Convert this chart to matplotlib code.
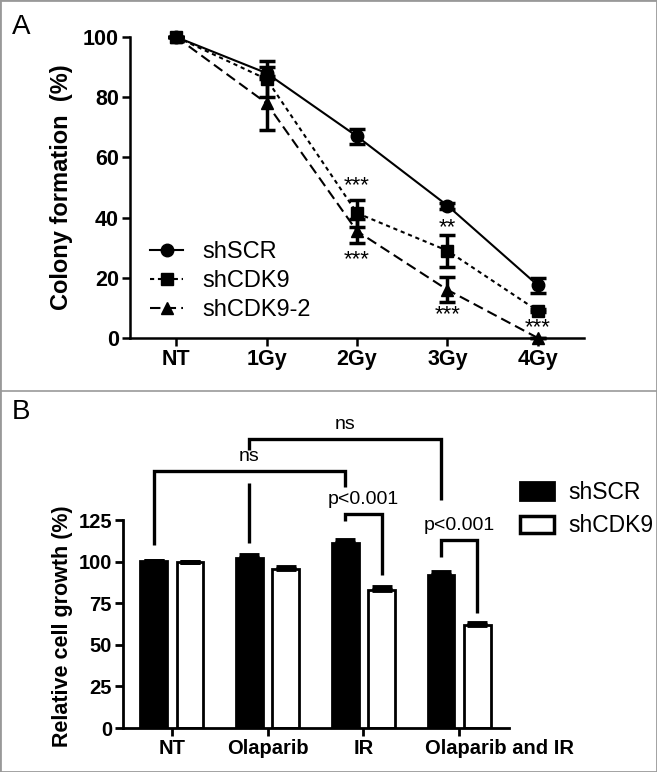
import matplotlib
matplotlib.use("Agg")
import matplotlib.pyplot as plt
from matplotlib.patches import Rectangle, Patch
from matplotlib.lines import Line2D
import numpy as np

plt.rcParams['font.family'] = ['Liberation Sans', 'DejaVu Sans']

# ---- panel A data: colony formation (%) ----
doses = ["NT", "1Gy", "2Gy", "3Gy", "4Gy"]
scr_mean = [100, 88, 67, 44, 17.5]
scr_err = [0, 2, 2.5, 1, 2.5]
cdk9_mean = [100, 86, 41.5, 29, 9]
cdk9_err = [0, 6, 4.5, 5.3, 0.5]
cdk92_mean = [100, 78, 35.5, 16, 0]
cdk92_err = [0, 9, 4, 4.2, 0]
# significance stars (dose index, y, text)
stars_x = [2, 2, 3, 3, 4]
stars_y = [50.5, 26, 36.5, 7.8, 3.5]
stars_txt = ["***", "***", "**", "***", "***"]

# ---- panel B data: relative cell growth (%) ----
groups = ["NT", "Olaparib", "IR", "Olaparib and IR"]
scr_growth = [100.5, 102, 111, 92]
scr_growth_err = [0, 2, 2, 2]
cdk9_growth = [100, 95.5, 83, 62]
cdk9_growth_err = [0, 1.5, 1.5, 1]
# brackets: x left, x right, y top, y left end, y right end, label, label y
br_x1 = [-0.19, 0.81, 1.81, 2.81]
br_x2 = [1.81, 2.81, 2.19, 3.19]
br_y = [154.5, 173.5, 128.6, 113]
br_y1 = [110, 111, 124.4, 103]
br_y2 = [145, 137, 92, 69]
br_txt = ["ns", "ns", "p<0.001", "p<0.001"]
br_ty = [158, 177, 132, 116.5]

fig = plt.figure(figsize=(6.57, 7.72), dpi=100)

# ---------------- panel A ----------------
ax = fig.add_axes([130/657, 1-338/772, 454/657, 301/772])
x = np.arange(len(doses))
styles = [("shSCR", scr_mean, scr_err, 'o', '-'),
          ("shCDK9", cdk9_mean, cdk9_err, 's', (0, (2, 1.8))),
          ("shCDK9-2", cdk92_mean, cdk92_err, '^', (0, (5, 2.5)))]
for name, m, e, mk, ls in styles:
    ax.errorbar(x, m, yerr=e, color='black', marker=mk, markersize=9,
                linestyle=ls, linewidth=1.5, elinewidth=2.5, capsize=5.5,
                capthick=2.5, label=name, clip_on=False, zorder=3)
for sx, sy, st in zip(stars_x, stars_y, stars_txt):
    ax.text(sx, sy, st, ha='center', va='center', fontsize=16)

ax.set_xlim(-0.51, 4.51)
ax.set_ylim(0, 100)
ax.set_xticks(x)
ax.set_xticklabels(doses, fontsize=15.5, fontweight='bold')
ax.set_yticks([0, 20, 40, 60, 80, 100])
ax.set_yticklabels(['0', '20', '40', '60', '80', '100'], fontsize=15.5, fontweight='bold')
for s in ['top', 'right']:
    ax.spines[s].set_visible(False)
for s in ['left', 'bottom']:
    ax.spines[s].set_linewidth(1.8)
ax.tick_params(width=1.8, length=6, pad=2)
ax.set_ylabel("Colony formation  (%)", fontsize=17, fontweight='bold')
ax.yaxis.set_label_coords(-0.125, 0.5)

h = [Line2D([], [], color='black', marker=mk, markersize=9, linestyle=ls, lw=1.5)
     for _, _, _, mk, ls in styles]
ax.legend(h, [s[0] for s in styles], loc='lower left', bbox_to_anchor=(0.045, 0.055),
          frameon=False, fontsize=17, handlelength=1.4, handletextpad=0.8,
          labelspacing=0.3, borderpad=0, borderaxespad=0)

# ---------------- panel B ----------------
bx = fig.add_axes([123/657, 1-728/772, 386/657, 208/772])
g = np.arange(len(groups))
off = 0.19
w = 0.28
bx.bar(g - off, scr_growth, width=w, color='black', edgecolor='black', linewidth=2, zorder=2)
bx.bar(g + off, cdk9_growth, width=w, color='white', edgecolor='black', linewidth=2, zorder=2)
bx.errorbar(g - off, scr_growth, yerr=[np.zeros(4), scr_growth_err], fmt='none',
            ecolor='black', elinewidth=2, capsize=7, capthick=3.5, zorder=3)
bx.errorbar(g + off, cdk9_growth, yerr=[np.zeros(4), cdk9_growth_err], fmt='none',
            ecolor='black', elinewidth=2, capsize=7, capthick=3.5, zorder=3)

for i in range(len(br_txt)):
    xs = [br_x1[i], br_x1[i], br_x2[i], br_x2[i]]
    ys = [br_y1[i], br_y[i], br_y[i], br_y2[i]]
    if i == 1:
        # left leg is broken where it crosses the lower "ns" bracket
        bx.plot([br_x1[i], br_x1[i]], [br_y1[i], 147.5], color='black', lw=2.4,
                clip_on=False, solid_capstyle='butt')
        ys = [167, br_y[i], br_y[i], br_y2[i]]
    bx.plot(xs, ys, color='black', lw=2.4, clip_on=False, solid_joinstyle='miter',
            solid_capstyle='butt')
    bx.text((br_x1[i] + br_x2[i]) / 2, br_ty[i], br_txt[i], ha='center', va='bottom',
            fontsize=14)

bx.set_xlim(-0.51, 3.52)
bx.set_ylim(0, 125)
bx.set_xticks(g)
bx.set_xticklabels(groups[:-1] + [""], fontsize=14.5, fontweight='bold')
# last category label sits to the right of its tick in the original
bx.annotate(groups[-1], xy=(g[-1], 0), xycoords=('data', 'axes fraction'),
            xytext=(29, -8), textcoords='offset points', ha='center', va='top',
            fontsize=14.5, fontweight='bold', annotation_clip=False)
bx.set_yticks([0, 25, 50, 75, 100, 125])
bx.set_yticklabels(['0', '25', '50', '75', '100', '125'], fontsize=14.5, fontweight='bold')
for s in ['top', 'right']:
    bx.spines[s].set_visible(False)
for s in ['left', 'bottom']:
    bx.spines[s].set_linewidth(2)
bx.tick_params(width=2, length=6, pad=2)
bx.set_ylabel("Relative cell growth (%)", fontsize=15.5, fontweight='bold')
bx.yaxis.set_label_coords(-0.13, 0.49)

bh = [Patch(facecolor='black', edgecolor='black', lw=2),
      Patch(facecolor='white', edgecolor='black', lw=2.5)]
fig.legend(bh, ["shSCR", "shCDK9"], loc='upper left', bbox_to_anchor=(520/657, 1-481/772),
           frameon=False, fontsize=16.5, handlelength=1.5, handleheight=0.8,
           handletextpad=0.6, labelspacing=0.45, borderpad=0, borderaxespad=0)

# panel labels and frame
fig.text(12/657, 1-27/772, "A", fontsize=20, va='center', ha='left')
fig.text(12/657, 1-412/772, "B", fontsize=20, va='center', ha='left')
fig.add_artist(Rectangle((0, 0), 1, 1, transform=fig.transFigure, fill=False,
                         edgecolor='#999999', lw=2))
fig.add_artist(Line2D([0, 1], [1-390.5/772, 1-390.5/772], transform=fig.transFigure,
                      color='#999999', lw=1.2))

fig.savefig("out.png", dpi=100)
